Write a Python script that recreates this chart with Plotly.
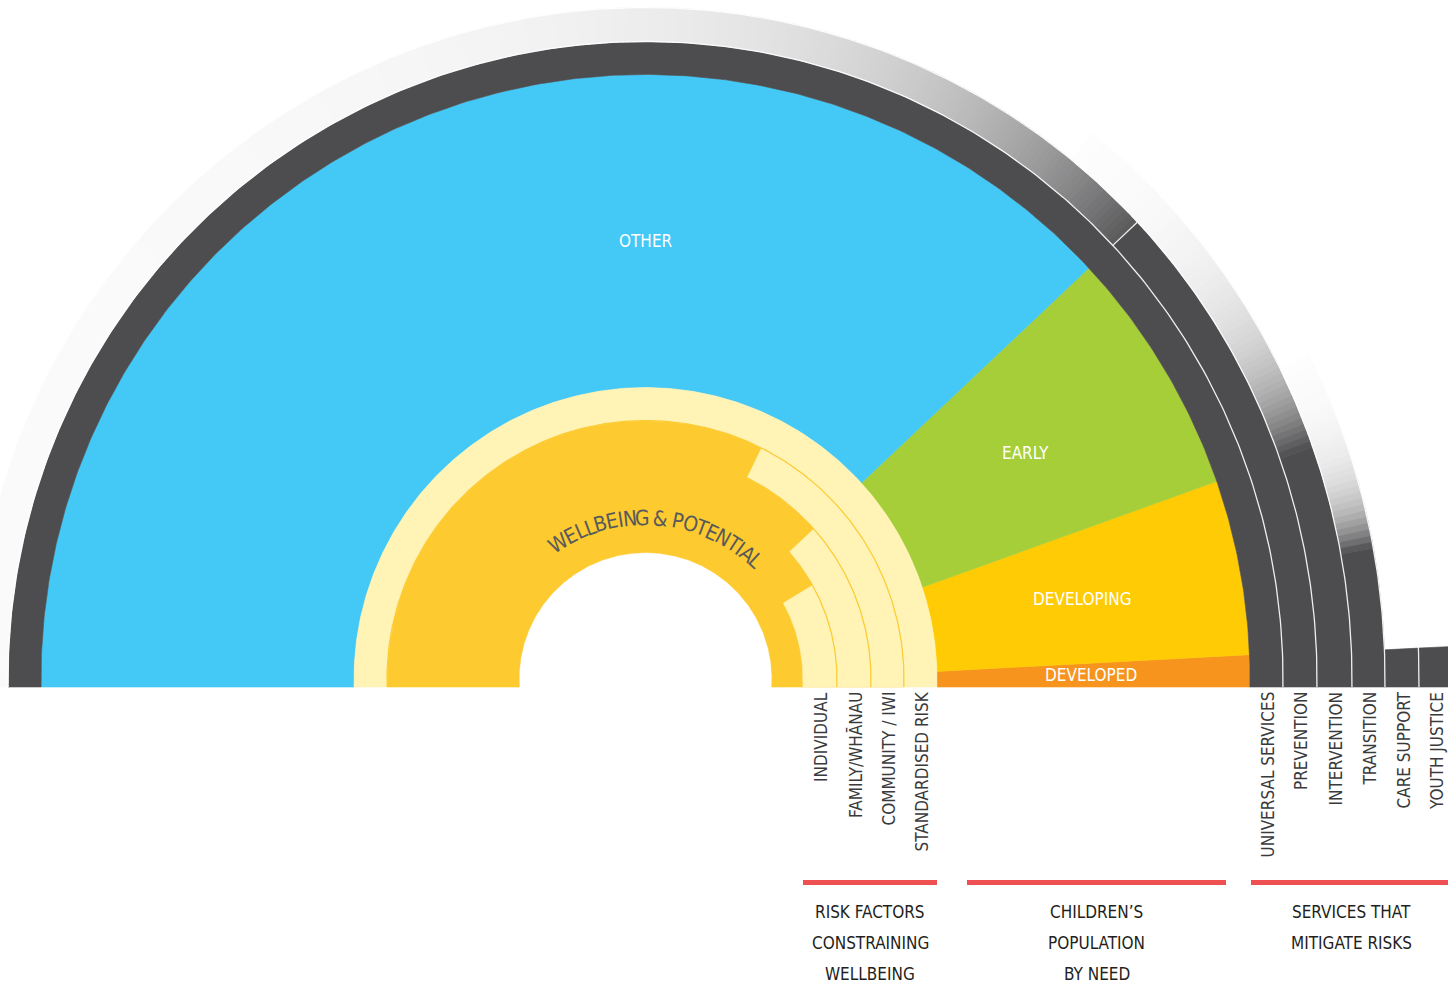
import numpy as np
import plotly.graph_objects as go

# ---------------- data ----------------
need_labels = ["DEVELOPED", "DEVELOPING", "EARLY", "OTHER"]
need_share = [1.7, 9.3, 13.1, 75.9]          # % of the half circle

risk_labels = ["INDIVIDUAL", "FAMILY/WHĀNAU", "COMMUNITY / IWI", "STANDARDISED RISK"]
risk_share = [17.4, 24.0, 35.6, 100.0]

service_labels = ["UNIVERSAL SERVICES", "PREVENTION", "INTERVENTION",
                  "TRANSITION", "CARE SUPPORT", "YOUTH JUSTICE"]
service_share = [100.0, 24.1, 11.0, 6.0, 1.6, 1.6]

centre_label = "WELLBEING & POTENTIAL"
group_titles = [["RISK FACTORS", "CONSTRAINING", "WELLBEING"],
                ["CHILDREN’S", "POPULATION", "BY NEED"],
                ["SERVICES THAT", "MITIGATE RISKS"]]

# ---------------- style / geometry ----------------
need_colors = ["#F7941D", "#FFCB05", "#A6CE39", "#44C8F5"]
DARK = (77, 77, 79)
BASE_YEL = "#FDCA30"
LIGHT_YEL = "#FFF3B5"
RED = "#EF5052"
FONT = "Liberation Sans Narrow, DejaVu Sans Condensed, Roboto Condensed, Arial Narrow, sans-serif"

DEG = 1.8           # degrees per percent (half circle)
OFF = 8.0           # circle centre sits slightly above the baseline
R_HOLE = 126.5
R_RISK = [157.5, 191.5, 225.5, 258.5, 291.5]
R_POP = [291.5, 604.5]
R_SERV = [604.5, 637.5, 671.5, 706.5, 739.5, 773.5, 807.5]
FADES = {1: dict(f0=0.93, tau=19.0, floor=0.025, step=0.5),
         2: dict(f0=1.0, tau=7.0, floor=0.0, step=0.5),
         3: dict(f0=1.0, tau=3.5, floor=0.0, step=0.5)}


def rgb(f):
    c = 255 + (np.array(DARK) - 255) * f
    return "rgb(%d,%d,%d)" % tuple(np.round(c).astype(int))


def reach(theta_deg, r):
    th = np.radians(theta_deg)
    return OFF * np.sin(th) + np.sqrt(r ** 2 - (OFF * np.cos(th)) ** 2)


def arc_xy(a0, a1, r, step=0.5):
    n = max(2, int(np.ceil(abs(a1 - a0) / step)) + 1)
    th = np.linspace(a0, a1, n)
    t = reach(th, r)
    rad = np.radians(th)
    return t * np.cos(rad), t * np.sin(rad)


def sector_xy(a0, a1, r0, r1):
    xo, yo = arc_xy(a0, a1, r1)
    xi, yi = arc_xy(a1, a0, r0)
    return np.concatenate([xo, xi, xo[:1]]), np.concatenate([yo, yi, yo[:1]])


fig = go.Figure()


def add_fill(xy, color, name=None, edge=0.6):
    x, y = xy
    fig.add_trace(go.Scatter(
        x=x, y=y, mode="lines", fill="toself", fillcolor=color,
        line=dict(color=color, width=edge), name=name or "",
        hoverinfo="name" if name else "skip", showlegend=False))


def add_line(xy, color, width):
    x, y = xy
    fig.add_trace(go.Scatter(x=x, y=y, mode="lines", line=dict(color=color, width=width),
                             hoverinfo="skip", showlegend=False))


# children's population by need
edges = np.concatenate([[0], np.cumsum(need_share)]) * DEG
for i, lab in enumerate(need_labels):
    add_fill(sector_xy(edges[i], edges[i + 1], *R_POP), need_colors[i], lab)

# wellbeing & risk factors
add_fill(sector_xy(0, 180, R_HOLE, R_RISK[3]), BASE_YEL, "WELLBEING & POTENTIAL")
for i, lab in enumerate(risk_labels):
    add_fill(sector_xy(0, risk_share[i] * DEG, R_RISK[i], R_RISK[i + 1]), LIGHT_YEL, lab)
for i in range(1, 4):
    add_line(arc_xy(0, risk_share[i] * DEG, R_RISK[i]), BASE_YEL, 1.2)

# services
for i, lab in enumerate(service_labels):
    r0, r1 = R_SERV[i], R_SERV[i + 1]
    a = service_share[i] * DEG
    if i in FADES and a < 180:
        fd = FADES[i]
        st = fd["step"]
        k = a
        while k < 180:
            f = fd["floor"] + (fd["f0"] - fd["floor"]) * np.exp(-(k + st / 2 - a) / fd["tau"])
            if f < 0.012:
                break
            add_fill(sector_xy(k, min(k + st * 1.6, 180), r0, r1), rgb(f), edge=0.5)
            k += st
    add_fill(sector_xy(0, a, r0, r1), rgb(1.0), lab)

for r in R_SERV[1:6]:
    add_line(arc_xy(0, 180, r), "rgba(255,255,255,0.9)", 1.3)
# tick where prevention's solid part ends
a = service_share[1] * DEG
tt = np.array([reach(a, R_SERV[1]), reach(a, R_SERV[2])])
add_line((tt * np.cos(np.radians(a)), tt * np.sin(np.radians(a))), "rgba(255,255,255,0.9)", 1.3)

# ---------------- text ----------------
ann = []
LAB_R = 446
for i, lab in enumerate(need_labels):
    mid = min((edges[i] + edges[i + 1]) / 2, 90)
    ann.append(dict(x=LAB_R * np.cos(np.radians(mid)), y=LAB_R * np.sin(np.radians(mid)),
                    text=lab, showarrow=False, font=dict(family=FONT, size=17, color="white")))

for i, lab in enumerate(risk_labels):
    ann.append(dict(x=(R_RISK[i] + R_RISK[i + 1]) / 2 + 1, y=-3, text=lab, textangle=-90,
                    xanchor="center", yanchor="top", showarrow=False,
                    font=dict(family=FONT, size=17, color="#3a3a3c")))
for i, lab in enumerate(service_labels):
    ann.append(dict(x=(R_SERV[i] + R_SERV[i + 1]) / 2 + 1, y=-3, text=lab, textangle=-90,
                    xanchor="center", yanchor="top", showarrow=False,
                    font=dict(family=FONT, size=17, color="#3a3a3c")))

# group headings with red rules
spans = [(R_RISK[0], R_RISK[-1]), (R_POP[0], R_POP[1]), (R_SERV[0], R_SERV[-1])]
rules = [(R_RISK[0], R_RISK[-1]), (R_POP[0] + 30, R_POP[1] - 24), (R_SERV[0] + 1, R_SERV[-1])]
shapes = []
for g, lines in enumerate(group_titles):
    x0, x1 = rules[g]
    shapes.append(dict(type="line", x0=x0, x1=x1, y0=-195.5, y1=-195.5,
                       line=dict(color=RED, width=5)))
    cx = sum(spans[g]) / 2 + (3 if g == 1 else 0)
    for j, t in enumerate(lines):
        ann.append(dict(x=cx, y=-225 - 31 * j, text=t, showarrow=False,
                        font=dict(family=FONT, size=17, color="#231f20")))

# curved centre label
W_EM = {"W": .944, "E": .667, "L": .556, "B": .667, "I": .278, "N": .722, "G": .778,
        " ": .278, "&": .667, "P": .667, "O": .778, "T": .611, "A": .667}
FS, SP, RT, PHI_C = 21, 0.4, 161.0, 85.4
w = np.array([W_EM.get(c, .6) * 0.82 * FS + SP for c in centre_label])
L = w.sum()
s = -L / 2 + np.cumsum(w) - w / 2
for c, si in zip(centre_label, s):
    if c == " ":
        continue
    phi = np.radians(PHI_C) - si / RT
    ann.append(dict(x=RT * np.cos(phi), y=OFF + RT * np.sin(phi), text=c, showarrow=False,
                    textangle=90 - np.degrees(phi),
                    font=dict(family=FONT, size=FS, color="#58595B")))

fig.update_layout(
    width=1448, height=985, margin=dict(l=0, r=0, t=0, b=0),
    paper_bgcolor="white", plot_bgcolor="white",
    xaxis=dict(range=[-645.5, 802.5], visible=False, fixedrange=True),
    yaxis=dict(range=[-298, 687], visible=False, fixedrange=True),
    annotations=ann, shapes=shapes, showlegend=False,
)
fig.write_html("out.html", config={"displayModeBar": False},
               post_script="document.body.style.margin='0';document.body.style.overflow='hidden';")
